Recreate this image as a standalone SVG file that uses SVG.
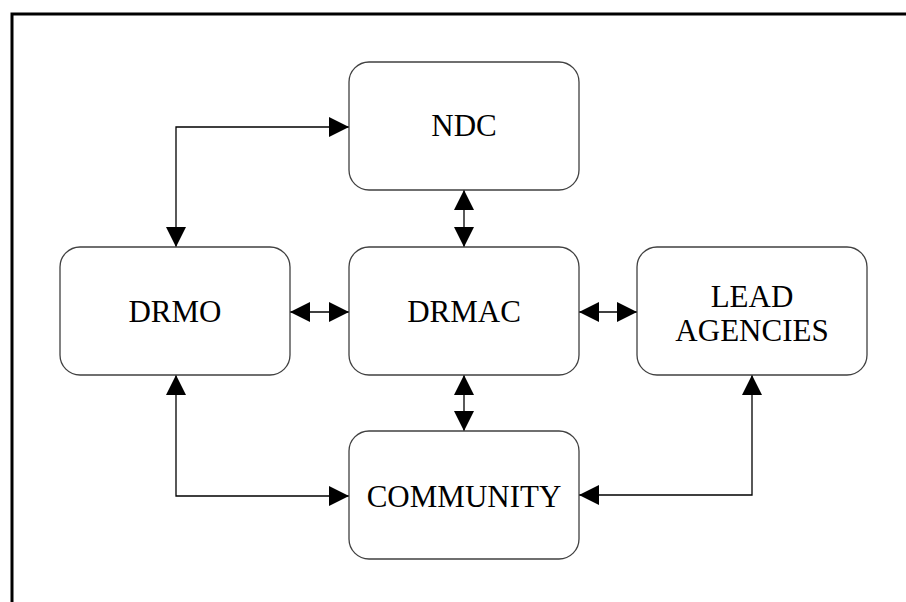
<svg xmlns="http://www.w3.org/2000/svg" width="906" height="602" viewBox="0 0 906 602">
<style>
.box{fill:#fff;stroke:#404040;stroke-width:1.3}
.lbl{font-family:"Liberation Serif","Times New Roman",serif;font-size:31px;fill:#000;text-anchor:middle}
.con{fill:none;stroke:#000;stroke-width:1.3}
</style>
<defs>
<marker id="ah" markerUnits="userSpaceOnUse" markerWidth="20" markerHeight="20" refX="20" refY="10" orient="auto-start-reverse" viewBox="0 0 20 20">
<path d="M0,0 L20,10 L0,20 z" fill="#000"/>
</marker>
</defs>
<rect x="0" y="0" width="906" height="602" fill="#fff"/>
<rect x="12" y="14" width="900" height="600" fill="none" stroke="#000" stroke-width="3"/>
<g id="connectors">
<path class="con" d="M176,247 L176,127 L349,127" marker-start="url(#ah)" marker-end="url(#ah)"/>
<path class="con" d="M464,190 L464,247" marker-start="url(#ah)" marker-end="url(#ah)"/>
<path class="con" d="M290,312 L349,312" marker-start="url(#ah)" marker-end="url(#ah)"/>
<path class="con" d="M579,312 L637,312" marker-start="url(#ah)" marker-end="url(#ah)"/>
<path class="con" d="M464,375 L464,431" marker-start="url(#ah)" marker-end="url(#ah)"/>
<path class="con" d="M176,375 L176,496 L349,496" marker-start="url(#ah)" marker-end="url(#ah)"/>
<path class="con" d="M752,375 L752,495 L579,495" marker-start="url(#ah)" marker-end="url(#ah)"/>
</g>
<g id="ndc">
<rect class="box" x="349" y="62" width="230" height="128" rx="20" ry="20"/>
<text class="lbl" x="464" y="136">NDC</text>
</g>
<g id="drmo">
<rect class="box" x="60" y="247" width="230" height="128" rx="20" ry="20"/>
<text class="lbl" x="175" y="322">DRMO</text>
</g>
<g id="drmac">
<rect class="box" x="349" y="247" width="230" height="128" rx="20" ry="20"/>
<text class="lbl" x="464" y="322">DRMAC</text>
</g>
<g id="lead-agencies">
<rect class="box" x="637" y="247" width="230" height="128" rx="20" ry="20"/>
<text class="lbl" x="752" y="307">LEAD</text>
<text class="lbl" x="752" y="341">AGENCIES</text>
</g>
<g id="community">
<rect class="box" x="349" y="431" width="230" height="128" rx="20" ry="20"/>
<text class="lbl" x="464" y="507">COMMUNITY</text>
</g>
</svg>
